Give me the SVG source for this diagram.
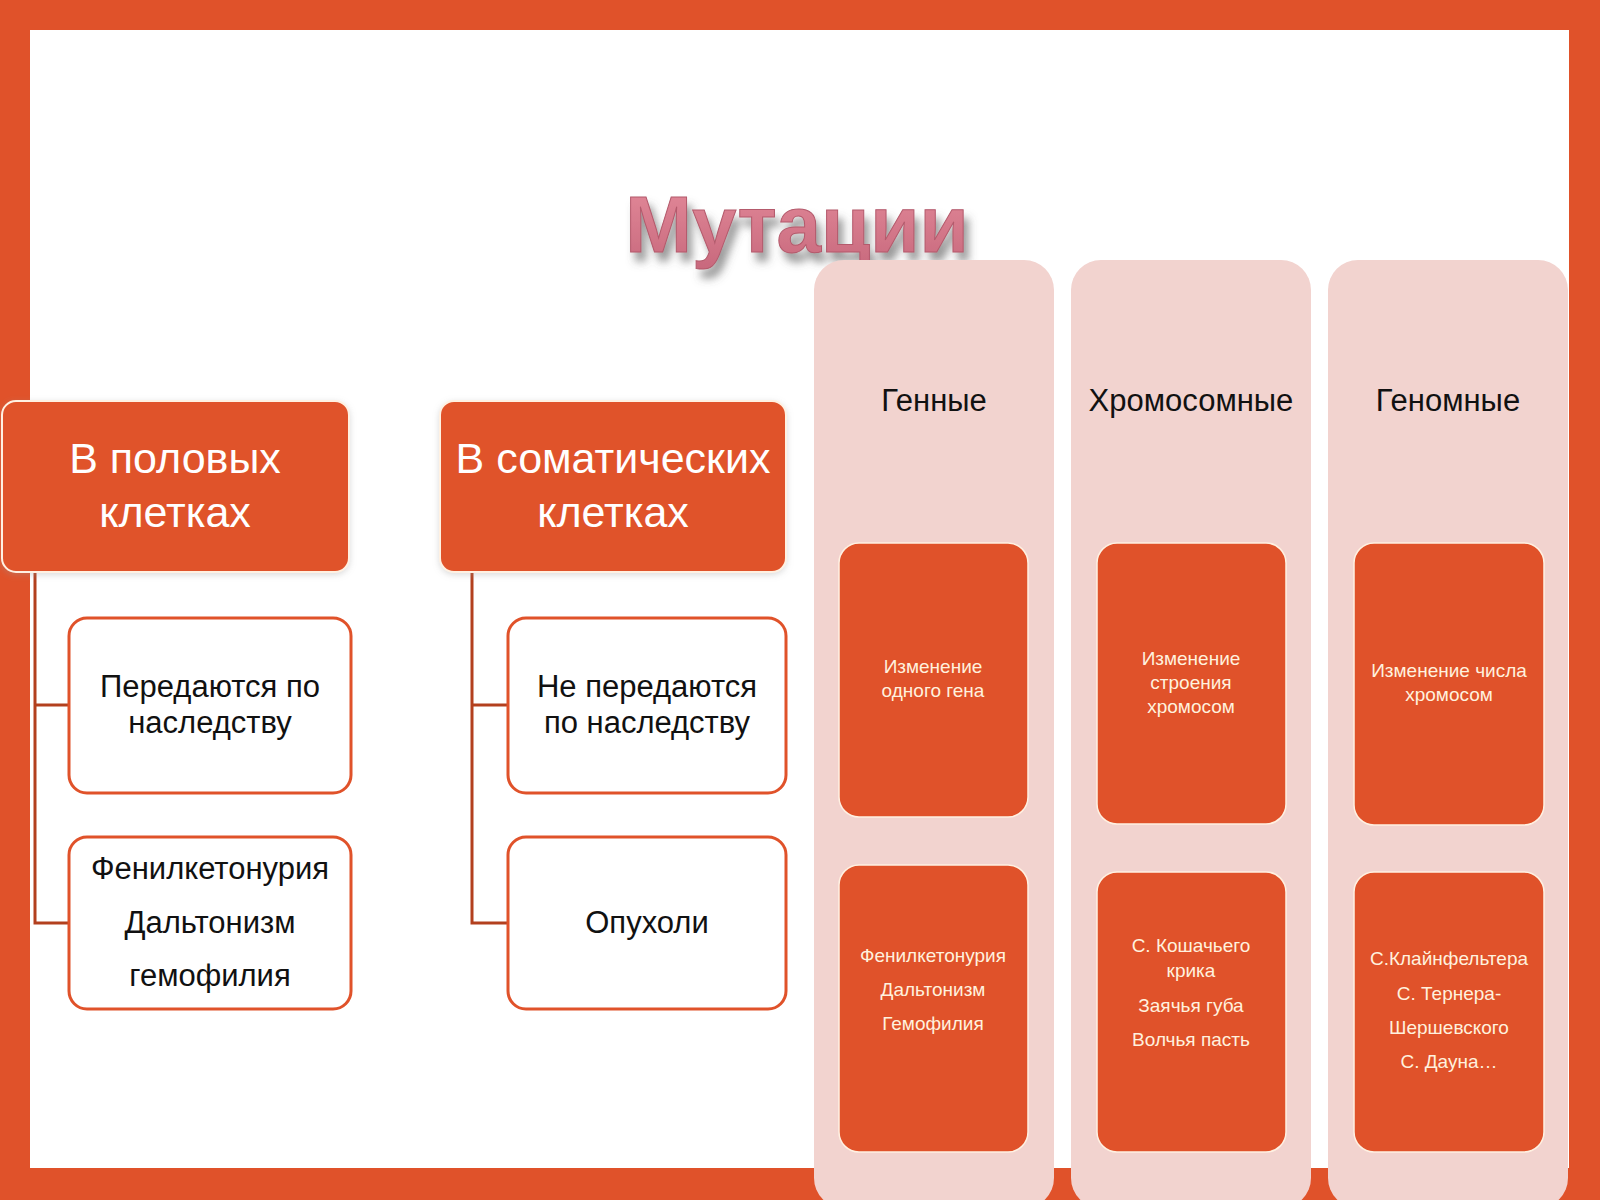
<svg xmlns="http://www.w3.org/2000/svg" width="1600" height="1200" viewBox="0 0 1600 1200">
<style>
.hdr{fill:#E0522A;stroke:#FFF1E2;stroke-width:2}
.wbox{fill:#FFFFFF;stroke:#E0522A;stroke-width:3}
.col{fill:#F2D3CF}
.ibox{fill:#E0522A;stroke:#FFF1E2;stroke-width:1.5}
.t{font-family:"Liberation Sans",Arial,sans-serif;text-anchor:middle}
.th{font-size:43px;fill:#FFFFFF}
.tw{font-size:31px;fill:#111111}
.tc{font-size:31px;fill:#111111}
.ti{font-size:19px;fill:#FFF1DE}
.conn{fill:none;stroke:#B3401E;stroke-width:3}
</style>
<defs>
<filter id="tshadow" x="-10%" y="-20%" width="130%" height="160%">
<feDropShadow dx="5" dy="9" stdDeviation="4" flood-color="#555555" flood-opacity="0.6"/>
</filter>
<linearGradient id="tgrad" x1="0" y1="0" x2="0" y2="1">
<stop offset="0" stop-color="#E38A9A"/>
<stop offset="1" stop-color="#C8697D"/>
</linearGradient>
<filter id="soft" x="-10%" y="-10%" width="120%" height="120%">
<feDropShadow dx="0" dy="2" stdDeviation="3" flood-color="#999999" flood-opacity="0.35"/>
</filter>
</defs>
<rect x="0" y="0" width="1600" height="1200" fill="#E0522A"/>
<rect x="30" y="30" width="1539" height="1138" fill="#FFFFFF"/>

<g id="title">
<text x="797" y="252" class="t" font-size="80" font-weight="bold" fill="url(#tgrad)" stroke="#B45A6C" stroke-width="1" filter="url(#tshadow)">Мутации</text>
</g>

<g id="connectors">
<path class="conn" d="M35 572 V923 H69 M35 705 H69"/>
<path class="conn" d="M472 572 V923 H508 M472 705 H508"/>
</g>

<g id="node-germ">
<rect class="hdr" x="2" y="401" width="347" height="171" rx="14" filter="url(#soft)"/>
<text class="t th" x="175" y="473">В половых</text>
<text class="t th" x="175" y="527">клетках</text>
</g>
<g id="node-somatic">
<rect class="hdr" x="440" y="401" width="346" height="171" rx="14" filter="url(#soft)"/>
<text class="t th" x="613" y="473">В соматических</text>
<text class="t th" x="613" y="527">клетках</text>
</g>
<g id="node-inherited">
<rect class="wbox" x="69" y="618" width="282" height="175" rx="18"/>
<text class="t tw" x="210" y="697">Передаются по</text>
<text class="t tw" x="210" y="733">наследству</text>
</g>
<g id="node-germ-examples">
<rect class="wbox" x="69" y="837" width="282" height="172" rx="18"/>
<text class="t tw" x="210" y="879">Фенилкетонурия</text>
<text class="t tw" x="210" y="933">Дальтонизм</text>
<text class="t tw" x="210" y="986">гемофилия</text>
</g>
<g id="node-not-inherited">
<rect class="wbox" x="508" y="618" width="278" height="175" rx="18"/>
<text class="t tw" x="647" y="697">Не передаются</text>
<text class="t tw" x="647" y="733">по наследству</text>
</g>
<g id="node-tumors">
<rect class="wbox" x="508" y="837" width="278" height="172" rx="18"/>
<text class="t tw" x="647" y="933">Опухоли</text>
</g>

<g id="node-gene">
<rect class="col" x="814" y="260" width="240" height="948" rx="30"/>
<text class="t tc" x="934" y="411">Генные</text>
<rect class="ibox" x="839" y="543" width="189" height="274" rx="20"/>
<text class="t ti" x="933" y="673">Изменение</text>
<text class="t ti" x="933" y="697">одного гена</text>
<rect class="ibox" x="839" y="865" width="189" height="287" rx="20"/>
<text class="t ti" x="933" y="962">Фенилкетонурия</text>
<text class="t ti" x="933" y="996">Дальтонизм</text>
<text class="t ti" x="933" y="1030">Гемофилия</text>
</g>
<g id="node-chromosomal">
<rect class="col" x="1071" y="260" width="240" height="948" rx="30"/>
<text class="t tc" x="1191" y="411">Хромосомные</text>
<rect class="ibox" x="1097" y="543" width="189" height="281" rx="20"/>
<text class="t ti" x="1191" y="665">Изменение</text>
<text class="t ti" x="1191" y="689">строения</text>
<text class="t ti" x="1191" y="713">хромосом</text>
<rect class="ibox" x="1097" y="872" width="189" height="280" rx="20"/>
<text class="t ti" x="1191" y="952">С. Кошачьего</text>
<text class="t ti" x="1191" y="977">крика</text>
<text class="t ti" x="1191" y="1012">Заячья губа</text>
<text class="t ti" x="1191" y="1046">Волчья пасть</text>
</g>
<g id="node-genomic">
<rect class="col" x="1328" y="260" width="240" height="948" rx="30"/>
<text class="t tc" x="1448" y="411">Геномные</text>
<rect class="ibox" x="1354" y="543" width="190" height="282" rx="20"/>
<text class="t ti" x="1449" y="677">Изменение числа</text>
<text class="t ti" x="1449" y="701">хромосом</text>
<rect class="ibox" x="1354" y="872" width="190" height="280" rx="20"/>
<text class="t ti" x="1449" y="965">С.Клайнфельтера</text>
<text class="t ti" x="1449" y="1000">С. Тернера-</text>
<text class="t ti" x="1449" y="1034">Шершевского</text>
<text class="t ti" x="1449" y="1068">С. Дауна…</text>
</g>
</svg>
